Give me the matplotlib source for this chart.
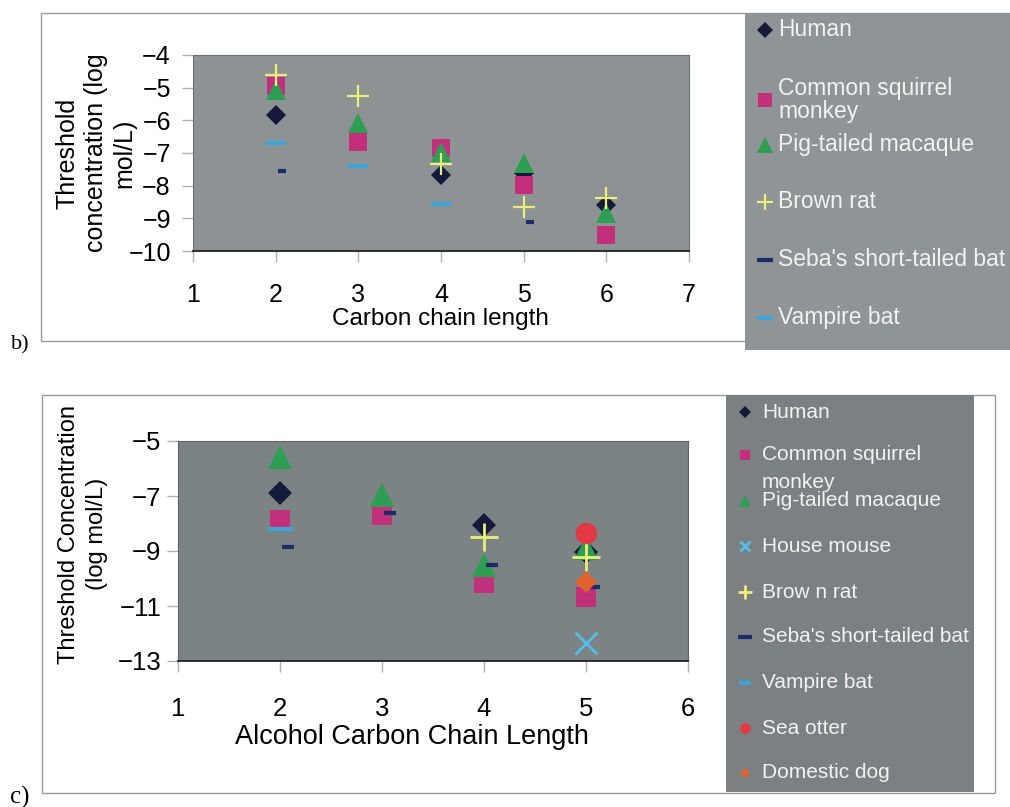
import numpy as np
import matplotlib.pyplot as plt
from matplotlib.patches import Rectangle
from matplotlib.lines import Line2D
from matplotlib.path import Path

plt.rcParams['font.family'] = ['Liberation Sans', 'DejaVu Sans']

nan = np.nan

# --- panel b) data ---
b_x = [2, 3, 4, 5, 6]
b_human = [-5.83, nan, -7.67, -7.62, -8.59]
b_squirrel = [-4.94, -6.65, -6.86, -7.98, -9.50]
b_macaque = [-5.07, -6.09, -6.96, -7.31, -8.84]
b_rat = [-4.61, -5.27, -7.33, -8.66, -8.39]
b_seba = [-7.55, nan, nan, -9.10, nan]
b_vampire = [-6.68, -7.40, -8.56, nan, nan]
b_xticks = [1, 2, 3, 4, 5, 6, 7]
b_yticks = [-4, -5, -6, -7, -8, -9, -10]

# --- panel c) data ---
c_x = [2, 3, 4, 5]
c_human = [-6.90, nan, -8.05, -9.02]
c_squirrel = [-7.87, -7.69, -10.18, -10.66]
c_macaque = [-5.59, -6.96, -9.51, -8.90]
c_mouse = [nan, nan, nan, -12.36]
c_rat = [nan, nan, -8.48, -9.21]
c_seba = [-8.87, -7.60, -9.51, -10.30]
c_vampire = [-8.21, nan, nan, nan]
c_otter = [nan, nan, nan, -8.36]
c_dog = [nan, nan, nan, -10.12]
c_xticks = [1, 2, 3, 4, 5, 6]
c_yticks = [-5, -7, -9, -11, -13]

W, H = 1010, 807

# colours
C_HUMAN = '#141a3a'
C_SQUIRREL = '#c2307c'
C_MACAQUE = '#2e9e52'
C_RAT = '#eeee7a'
C_SEBA = '#1b2c66'
C_VAMPIRE = '#3ea6d6'
C_MOUSE = '#55bde6'
C_OTTER = '#e23a42'
C_DOG = '#e0622e'

# dash drawn to the right of the point, as the spreadsheet does
seba_mark = Path([(0.15, 0), (1, 0)])


def fx(x):
    return x / W


def fy(y):
    return 1 - y / H


def box(x0, y0, x1, y1, **kw):
    fig.add_artist(Rectangle((fx(x0), fy(y1)), fx(x1) - fx(x0), fy(y0) - fy(y1),
                             transform=fig.transFigure, **kw))


def legend_rows(entries, x_mark, x_text, size, scale):
    for label, y, style in entries:
        st = dict(style)
        st['ms'] = st['ms'] * scale
        fig.add_artist(Line2D([fx(x_mark)], [fy(y)], transform=fig.transFigure,
                              linestyle='none', **st))
        fig.text(fx(x_text), fy(y), label, color='#f2f2f2', fontsize=size,
                 va='center', ha='left', linespacing=1.05)


fig = plt.figure(figsize=(W / 100, H / 100), dpi=100)

# chart frames and legend backgrounds
box(41, 13, 1015, 341, fill=False, edgecolor='#9a9a9a', lw=1.0)
box(745, 13, 1015, 350, facecolor='#8f9496', edgecolor='none')
box(42, 395, 995, 793, fill=False, edgecolor='#9a9a9a', lw=1.0)
box(726, 395, 974, 792, facecolor='#7b8183', edgecolor='none')

# ---------------- panel b) ----------------
ax = fig.add_axes([fx(193), fy(251), (689 - 193) / W, (251 - 55) / H])
ax.set_facecolor('#8d9294')
st_b = {
    'Human': dict(marker='D', ms=10.5, color=C_HUMAN, mew=0),
    'Common squirrel\nmonkey': dict(marker='s', ms=13.5, color=C_SQUIRREL, mew=0),
    'Pig-tailed macaque': dict(marker='^', ms=14.5, color=C_MACAQUE, mew=0),
    'Brown rat': dict(marker='+', ms=16, color=C_RAT, mew=1.6),
    "Seba's short-tailed bat": dict(marker=seba_mark, ms=14.5, color=C_SEBA, mew=3),
    'Vampire bat': dict(marker='_', ms=14.5, color=C_VAMPIRE, mew=3),
}
for name, ys in zip(st_b, [b_human, b_squirrel, b_macaque, b_rat, b_seba, b_vampire]):
    ax.plot(b_x, ys, linestyle='none', label=name, **st_b[name])
ax.set_xlim(1, 7)
ax.set_ylim(-10, -4)
ax.set_xticks(b_xticks)
ax.set_yticks(b_yticks)
ax.tick_params(axis='x', length=8, width=1, color='#b0b0b0', pad=15, labelsize=18)
ax.tick_params(axis='y', length=8, width=1, color='#b0b0b0', pad=8, labelsize=18)
for s in ['top', 'right', 'left']:
    ax.spines[s].set_color('#6a6f70')
ax.spines['bottom'].set_color('#222222')
ax.spines['bottom'].set_linewidth(1.3)
ax.set_xlabel('Carbon chain length', fontsize=17.5)
ax.xaxis.set_label_coords(0.498, -0.349)
ax.xaxis.label.set_va('center')
fig.text(fx(96), fy(153), 'Threshold\nconcentration (log\nmol/L)', rotation=90,
         ha='center', va='center', multialignment='center', fontsize=18,
         linespacing=1.25)
fig.text(fx(20), fy(345), 'b)', fontsize=16, ha='center', va='center',
         family='Liberation Serif')

legend_rows([
    ('Human', 30, st_b['Human']),
    ('Common squirrel\nmonkey', 100, st_b['Common squirrel\nmonkey']),
    ('Pig-tailed macaque', 145, st_b['Pig-tailed macaque']),
    ('Brown rat', 202, st_b['Brown rat']),
    ("Seba's short-tailed bat", 260, dict(st_b["Seba's short-tailed bat"], marker='_')),
    ('Vampire bat', 318, st_b['Vampire bat']),
], 765, 778, 16.5, 0.75)

# ---------------- panel c) ----------------
ax2 = fig.add_axes([fx(178), fy(661), (688 - 178) / W, (661 - 441) / H])
ax2.set_facecolor('#7c8385')
st_c = {
    'Human': dict(marker='D', ms=12.5, color=C_HUMAN, mew=0),
    'Common squirrel\nmonkey': dict(marker='s', ms=15, color=C_SQUIRREL, mew=0),
    'Pig-tailed macaque': dict(marker='^', ms=17, color=C_MACAQUE, mew=0),
    'House mouse': dict(marker='x', ms=15.5, color=C_MOUSE, mew=2),
    'Brow n rat': dict(marker='+', ms=20, color=C_RAT, mew=2),
    "Seba's short-tailed bat": dict(marker=seba_mark, ms=20, color=C_SEBA, mew=3),
    'Vampire bat': dict(marker='_', ms=18, color=C_VAMPIRE, mew=3),
    'Sea otter': dict(marker='o', ms=15.5, color=C_OTTER, mew=0),
    'Domestic dog': dict(marker='D', ms=11, color=C_DOG, mew=0),
}
series_c = [c_human, c_squirrel, c_macaque, c_mouse, c_rat, c_seba, c_vampire, c_otter, c_dog]
for name, ys in zip(st_c, series_c):
    ax2.plot(c_x, ys, linestyle='none', label=name, **st_c[name])
ax2.set_xlim(1, 6)
ax2.set_ylim(-13, -5)
ax2.set_xticks(c_xticks)
ax2.set_yticks(c_yticks)
ax2.tick_params(axis='x', length=8, width=1, color='#b0b0b0', pad=18, labelsize=18.5)
ax2.tick_params(axis='y', length=8, width=1, color='#b0b0b0', pad=4, labelsize=18.5)
for s in ['top', 'right', 'left']:
    ax2.spines[s].set_color('#5e6466')
ax2.spines['bottom'].set_color('#222222')
ax2.spines['bottom'].set_linewidth(1.3)
ax2.set_xlabel('Alcohol Carbon Chain Length', fontsize=19.5)
ax2.xaxis.set_label_coords(0.459, -0.345)
ax2.xaxis.label.set_va('center')
fig.text(fx(83), fy(534), 'Threshold Concentration\n(log mol/L)', rotation=90,
         ha='center', va='center', multialignment='center', fontsize=17,
         linespacing=1.3)
fig.text(fx(20), fy(797), 'c)', fontsize=18, ha='center', va='center',
         family='Liberation Serif')

legend_rows([
    ('Human', 412, st_c['Human']),
    ('Common squirrel', 455, st_c['Common squirrel\nmonkey']),
    ('Pig-tailed macaque', 501, st_c['Pig-tailed macaque']),
    ('House mouse', 546, st_c['House mouse']),
    ('Brow n rat', 592, st_c['Brow n rat']),
    ("Seba's short-tailed bat", 637, dict(st_c["Seba's short-tailed bat"], marker='_')),
    ('Vampire bat', 683, st_c['Vampire bat']),
    ('Sea otter', 728, st_c['Sea otter']),
    ('Domestic dog', 773, st_c['Domestic dog']),
], 745, 762, 15, 0.5)
fig.text(fx(762), fy(482), 'monkey', color='#f2f2f2', fontsize=15, va='center', ha='left')

fig.savefig('out.png', dpi=100)
